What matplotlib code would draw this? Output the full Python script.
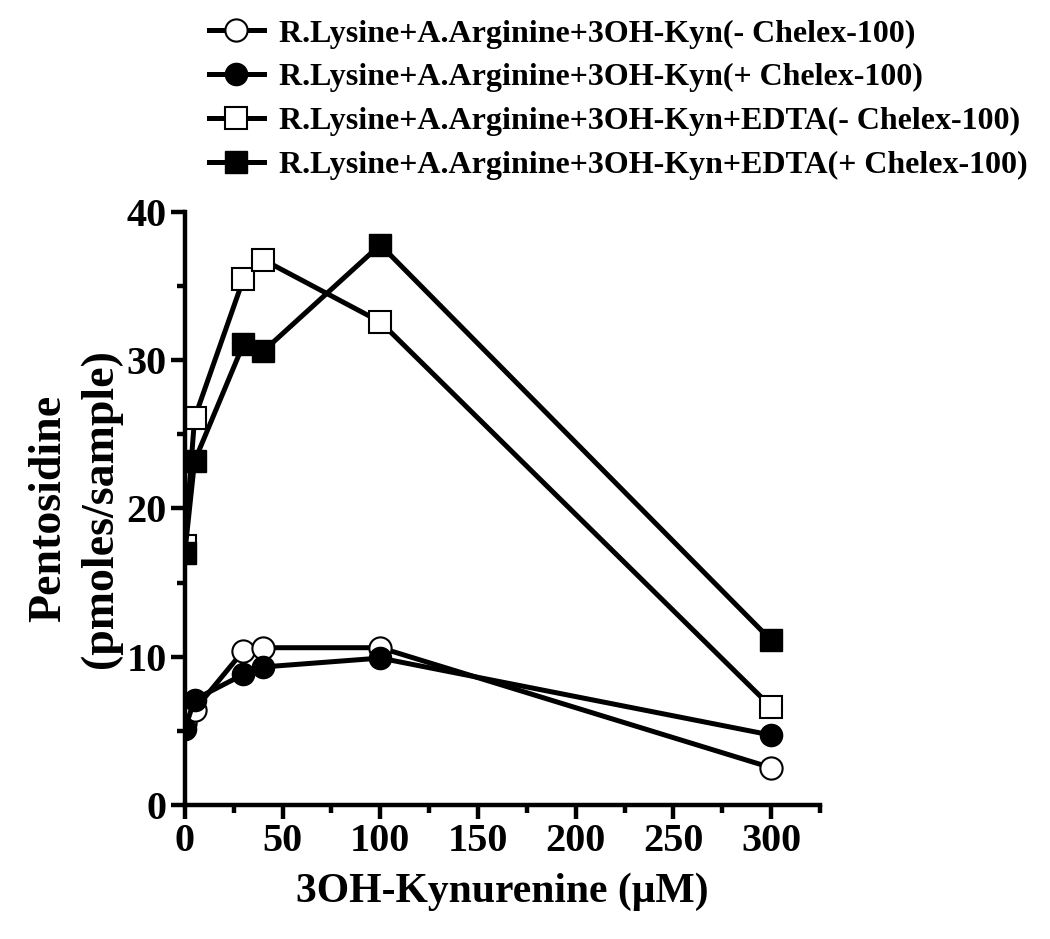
import matplotlib
matplotlib.use('Agg')
import matplotlib.pyplot as plt
from matplotlib.ticker import MultipleLocator

plt.rcParams['font.family'] = ['Liberation Serif', 'DejaVu Serif']
plt.rcParams['font.weight'] = 'bold'

# концентрация 3OH-Kyn, мкМ
x = [0, 5, 30, 40, 100, 300]

# pentosidine, pmoles/sample
open_circle = [5.5, 6.4, 10.4, 10.6, 10.6, 2.5]
filled_circle = [5.1, 7.1, 8.8, 9.3, 9.9, 4.7]
open_square = [17.5, 26.1, 35.5, 36.8, 32.6, 6.6]
filled_square = [17.0, 23.2, 31.1, 30.6, 37.8, 11.1]

labels = ['R.Lysine+A.Arginine+3OH-Kyn(- Chelex-100)',
          'R.Lysine+A.Arginine+3OH-Kyn(+ Chelex-100)',
          'R.Lysine+A.Arginine+3OH-Kyn+EDTA(- Chelex-100)',
          'R.Lysine+A.Arginine+3OH-Kyn+EDTA(+ Chelex-100)']

fig = plt.figure(figsize=(10.5, 9.39), dpi=100)
ax = fig.add_axes([0.176, 0.143, 0.605, 0.631])

lw = 3.6
ms = 16
ax.plot(x, open_circle, '-o', color='black', lw=lw, ms=ms, mfc='white', mec='black', mew=1.5, label=labels[0])
ax.plot(x, filled_circle, '-o', color='black', lw=lw, ms=ms, mfc='black', mec='black', label=labels[1])
ax.plot(x, open_square, '-s', color='black', lw=lw, ms=ms, mfc='white', mec='black', mew=1.5, label=labels[2])
ax.plot(x, filled_square, '-s', color='black', lw=lw, ms=ms, mfc='black', mec='black', label=labels[3])

ax.set_xlim(0, 325)
ax.set_ylim(0, 40)
ax.xaxis.set_major_locator(MultipleLocator(50))
ax.xaxis.set_minor_locator(MultipleLocator(25))
ax.yaxis.set_major_locator(MultipleLocator(10))
ax.yaxis.set_minor_locator(MultipleLocator(5))

for s in ['top', 'right']:
    ax.spines[s].set_visible(False)
for s in ['left', 'bottom']:
    ax.spines[s].set_linewidth(3.2)

ax.tick_params(which='major', direction='out', length=10, width=3.2, labelsize=29, pad=3)
ax.tick_params(which='minor', direction='out', length=6, width=3.2)

ax.set_xlabel('3OH-Kynurenine (\u03bcM)', fontsize=30, fontweight='bold', labelpad=9)
ax.set_ylabel('Pentosidine\n(pmoles/sample)', fontsize=33, fontweight='bold', labelpad=3, linespacing=1.3)

fig.legend(loc='upper left', bbox_to_anchor=(0.181, 1.0), frameon=False,
           fontsize=23, handlelength=1.7, handletextpad=0.5, labelspacing=0.45,
           borderaxespad=0.2)

fig.savefig('out.png', dpi=100)
